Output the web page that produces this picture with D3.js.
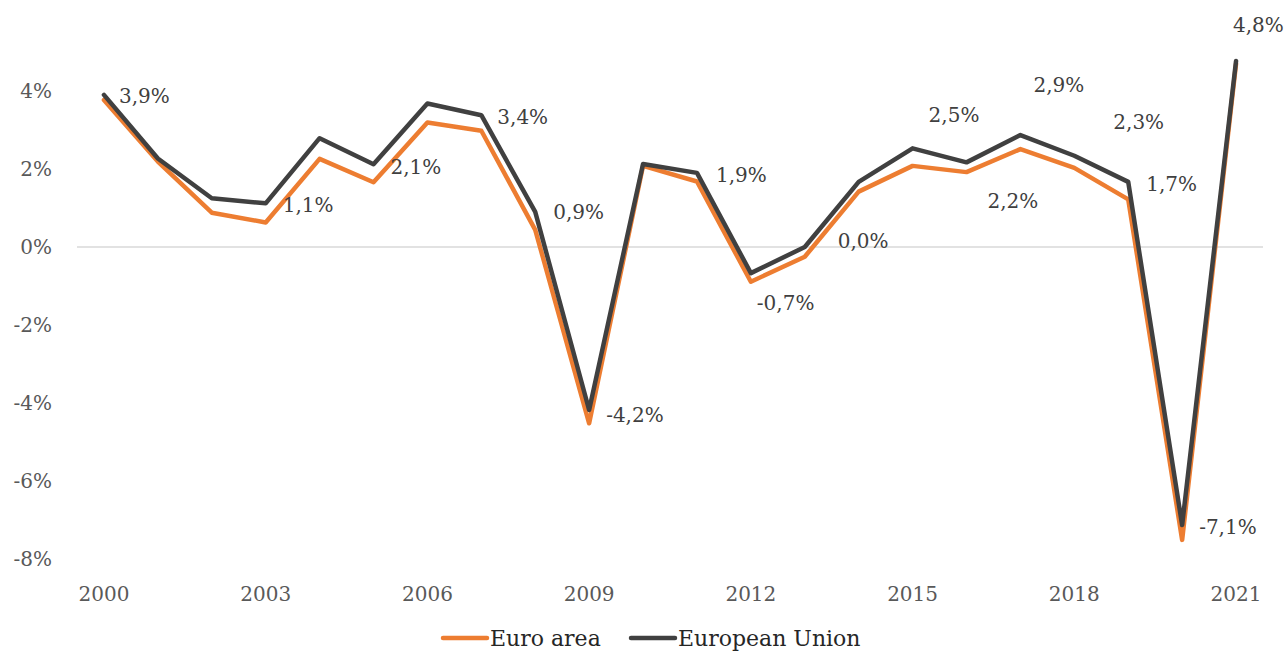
<!DOCTYPE html>
<html>
<head>
<meta charset="utf-8">
<script src="https://cdn.jsdelivr.net/npm/d3@7/dist/d3.min.js"></script>
<style>
  html, body { margin: 0; padding: 0; background: #fff; }
  svg { display: block; }
  text { font-family: "DejaVu Serif", "Liberation Serif", serif; }
</style>
</head>
<body>
<svg id="chart" width="1285" height="653"></svg>
<script>
const years = [2000,2001,2002,2003,2004,2005,2006,2007,2008,2009,2010,2011,2012,2013,2014,2015,2016,2017,2018,2019,2020,2021];
const euroArea = [3.77,2.19,0.88,0.63,2.26,1.66,3.19,2.98,0.44,-4.52,2.08,1.68,-0.89,-0.25,1.42,2.08,1.92,2.51,2.03,1.22,-7.51,4.7];
const europeanUnion = [3.9,2.27,1.25,1.12,2.79,2.12,3.68,3.38,0.9,-4.18,2.13,1.9,-0.67,0.0,1.67,2.53,2.17,2.87,2.34,1.67,-7.13,4.77];
const yTicks = [-8,-6,-4,-2,0,2,4];
const xTickYears = [2000,2003,2006,2009,2012,2015,2018,2021];
const labelYears = [2000,2003,2005,2007,2008,2009,2011,2012,2013,2015,2016,2017,2018,2019,2020,2021];
const seriesNames = ["Euro area","European Union"];

// label placement offsets (style, not data)
const labelOffsets = {
  2000:[15,1],2003:[17,2],2005:[17,3],2007:[16,2],2008:[18,0],2009:[17,5],
  2011:[19,2],2012:[6,30],2013:[33,-6],2015:[16,-33],2016:[21,39],2017:[13,-50],
  2018:[39,-34],2019:[18,2],2020:[17,2],2021:[-3,-36]
};

const svg = d3.select("#chart");
const x = d3.scaleBand().domain(years).range([77,1263]).padding(0);
const cx = d => x(d) + x.bandwidth()/2;
const y = d3.scaleLinear().domain([-8,4]).range([559,91]);

// zero line
svg.append("line")
  .attr("x1",77).attr("x2",1263)
  .attr("y1",y(0)).attr("y2",y(0))
  .attr("stroke","#d9d9d9").attr("stroke-width",1.5);

// y axis
const yAxis = d3.axisLeft(y).tickValues(yTicks).tickSize(0).tickPadding(0)
  .tickFormat(d => d + "%");
const gy = svg.append("g").attr("transform","translate(52,0)").call(yAxis);
gy.select(".domain").remove();
gy.selectAll("text").attr("fill","#595959").style("font-size","20px")
  .style("font-family","DejaVu Serif");

// x axis
const xAxis = d3.axisBottom(x).tickValues(xTickYears).tickSize(0).tickPadding(0);
const gx = svg.append("g").attr("transform","translate(0,587)").call(xAxis);
gx.select(".domain").remove();
gx.selectAll("text").attr("fill","#595959").style("font-size","20px")
  .style("font-family","DejaVu Serif");

// lines
const line = d3.line().x((d,i) => cx(years[i])).y(d => y(d));
const colors = ["#ED7D31","#404040"];
[euroArea, europeanUnion].forEach((s,k) => {
  svg.append("path").datum(s)
    .attr("d", line)
    .attr("fill","none")
    .attr("stroke", colors[k])
    .attr("stroke-width", 4.5)
    .attr("stroke-linejoin","round")
    .attr("stroke-linecap","round");
});

// data labels
const fmt = v => (Math.abs(v) < 0.05 ? "0,0" : d3.format(".1f")(v).replace(".", ",").replace("−","-")) + "%";
svg.append("g").selectAll("text").data(labelYears).join("text")
  .attr("x", d => cx(d) + labelOffsets[d][0])
  .attr("y", d => y(europeanUnion[years.indexOf(d)]) + labelOffsets[d][1])
  .attr("dominant-baseline","central")
  .attr("fill","#404040")
  .style("font-size","20px")
  .text(d => fmt(europeanUnion[years.indexOf(d)]));

// legend
const legend = svg.append("g");
const legendItems = [{x:443, name:seriesNames[0], c:colors[0]},{x:631, name:seriesNames[1], c:colors[1]}];
legendItems.forEach(it => {
  legend.append("line").attr("x1",it.x).attr("x2",it.x+44).attr("y1",638).attr("y2",638)
    .attr("stroke",it.c).attr("stroke-width",4.5).attr("stroke-linecap","round");
  legend.append("text").attr("x",it.x+47).attr("y",638).attr("dominant-baseline","central")
    .attr("fill","#262626").style("font-size","22px").text(it.name);
});
</script>
</body>
</html>
